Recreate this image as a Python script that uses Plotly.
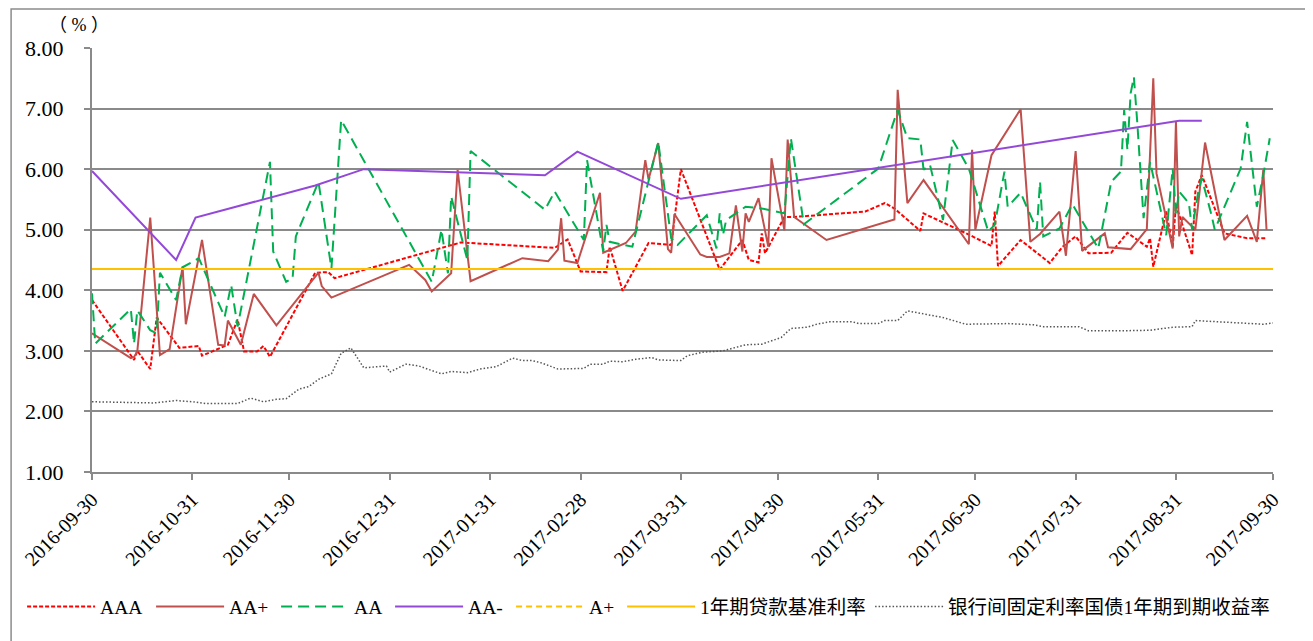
import plotly.graph_objects as go

# ---------------- data ----------------
aaa_dates = ["2016-09-30","2016-10-13","2016-10-14","2016-10-18","2016-10-20","2016-10-27","2016-11-02","2016-11-03",
             "2016-11-11","2016-11-14","2016-11-16","2016-11-20","2016-11-22","2016-11-24","2016-12-08","2016-12-12",
             "2016-12-14","2017-01-22","2017-02-20","2017-02-24","2017-02-28","2017-03-08","2017-03-09","2017-03-13",
             "2017-03-21","2017-03-28","2017-03-31","2017-04-12","2017-04-19","2017-04-21","2017-04-24","2017-04-25",
             "2017-04-26","2017-05-02","2017-05-05","2017-05-27","2017-06-02","2017-06-05","2017-06-13","2017-06-14",
             "2017-06-28","2017-07-05","2017-07-06","2017-07-07","2017-07-14","2017-07-23","2017-07-27","2017-07-31",
             "2017-08-04","2017-08-11","2017-08-16","2017-08-22","2017-08-23","2017-08-24","2017-08-28","2017-08-30",
             "2017-08-31","2017-09-05","2017-09-06","2017-09-08","2017-09-11","2017-09-15","2017-09-22","2017-09-28"]
aaa_vals = [3.84,2.85,3.00,2.70,3.55,3.05,3.08,2.92,
            3.10,3.52,2.99,2.99,3.08,2.90,4.29,4.30,
            4.20,4.79,4.70,4.84,4.31,4.30,4.72,3.99,
            4.78,4.75,6.00,4.34,4.83,4.50,4.46,4.94,
            4.61,5.21,5.21,5.30,5.44,5.35,4.98,5.27,
            4.92,4.73,5.30,4.40,4.83,4.45,4.72,4.89,
            4.61,4.62,4.95,4.72,4.86,4.39,5.30,4.72,
            5.41,4.58,5.63,5.90,5.49,4.94,4.86,4.86]

aap_dates = ["2016-09-30","2016-10-12","2016-10-13","2016-10-14","2016-10-18","2016-10-21","2016-10-24","2016-10-28",
             "2016-10-29","2016-11-03","2016-11-08","2016-11-10","2016-11-11","2016-11-15","2016-11-19","2016-11-26",
             "2016-12-09","2016-12-10","2016-12-13","2017-01-06","2017-01-11","2017-01-13","2017-01-19","2017-01-21",
             "2017-01-25","2017-02-10","2017-02-18","2017-02-21","2017-02-22","2017-02-23","2017-02-27","2017-03-06",
             "2017-03-07","2017-03-14","2017-03-17","2017-03-20","2017-03-21","2017-03-24","2017-03-27","2017-03-28",
             "2017-03-29","2017-04-06","2017-04-08","2017-04-12","2017-04-15","2017-04-17","2017-04-19","2017-04-20",
             "2017-04-21","2017-04-24","2017-04-27","2017-04-28","2017-05-02","2017-05-03","2017-05-05","2017-05-15",
             "2017-06-05","2017-06-06","2017-06-09","2017-06-14","2017-06-28","2017-06-29","2017-06-30","2017-07-05",
             "2017-07-14","2017-07-17","2017-07-20","2017-07-26","2017-07-28","2017-07-31","2017-08-02","2017-08-09",
             "2017-08-10","2017-08-17","2017-08-22","2017-08-24","2017-08-25","2017-08-30","2017-08-31","2017-09-01",
             "2017-09-02","2017-09-06","2017-09-09","2017-09-15","2017-09-22","2017-09-25","2017-09-27","2017-09-28"]
aap_vals = [3.29,2.88,2.90,2.99,5.20,2.93,3.03,4.39,
            3.44,4.83,3.10,3.09,3.50,3.10,3.94,3.42,
            4.29,4.07,3.88,4.42,4.17,3.98,4.28,5.99,
            4.15,4.53,4.48,4.67,5.19,4.49,4.45,5.61,
            4.62,4.78,4.97,6.15,5.83,6.43,4.68,4.62,
            5.26,4.59,4.55,4.55,4.61,5.40,4.64,5.27,
            5.13,5.52,4.72,6.18,4.99,6.49,5.21,4.83,
            5.17,7.31,5.44,5.82,4.76,6.32,5.00,6.23,
            6.99,4.80,4.93,5.30,4.57,6.30,4.65,4.94,
            4.71,4.68,5.01,7.50,5.93,4.69,6.78,4.89,
            5.21,5.00,6.44,4.83,5.23,4.80,5.99,5.00]

aa_dates = ["2016-09-30","2016-10-01","2016-10-12","2016-10-13","2016-10-14","2016-10-18","2016-10-20","2016-10-21",
            "2016-10-26","2016-10-28","2016-11-02","2016-11-10","2016-11-12","2016-11-14","2016-11-24","2016-11-25",
            "2016-11-29","2016-12-01","2016-12-02","2016-12-09","2016-12-13","2016-12-16","2017-01-13","2017-01-16",
            "2017-01-18","2017-01-19","2017-01-24","2017-01-25","2017-02-17","2017-02-20","2017-03-01","2017-03-02",
            "2017-03-07","2017-03-08","2017-03-09","2017-03-16","2017-03-24","2017-03-28","2017-03-30","2017-04-08",
            "2017-04-11","2017-04-12","2017-04-13","2017-04-14","2017-04-20","2017-04-25","2017-05-02","2017-05-04",
            "2017-05-08","2017-05-31","2017-06-06","2017-06-09","2017-06-13","2017-06-14","2017-06-16","2017-06-20",
            "2017-06-23","2017-06-28","2017-07-04","2017-07-06","2017-07-09","2017-07-10","2017-07-14","2017-07-19",
            "2017-07-20","2017-07-21","2017-07-26","2017-07-30","2017-08-07","2017-08-11","2017-08-14","2017-08-15",
            "2017-08-16","2017-08-17","2017-08-18","2017-08-19","2017-08-21","2017-08-23","2017-08-28","2017-08-30",
            "2017-08-31","2017-09-01","2017-09-04","2017-09-05","2017-09-07","2017-09-08","2017-09-11","2017-09-12",
            "2017-09-20","2017-09-22","2017-09-25","2017-09-27","2017-09-29"]
aa_vals = [3.95,3.12,3.69,3.12,3.67,3.34,3.29,4.29,
           3.84,4.38,4.53,3.56,4.09,3.40,6.12,4.64,
           4.14,4.20,4.89,5.79,4.36,6.81,4.14,5.00,
           4.28,5.55,4.50,6.30,5.33,5.63,4.83,6.15,
           4.64,5.08,4.80,4.72,6.45,4.86,4.75,5.24,
           4.69,5.27,4.91,5.16,5.38,5.35,5.27,6.51,
           5.09,6.01,6.98,6.51,6.49,5.99,6.07,5.16,
           6.48,6.01,4.97,5.08,5.96,5.38,5.61,5.00,
           5.79,4.89,5.02,5.42,4.69,5.79,5.96,6.98,
           6.32,7.25,7.52,6.81,5.19,6.12,4.91,6.01,
           5.27,5.63,5.44,5.00,5.66,5.85,5.24,5.00,
           6.01,6.78,5.38,5.90,6.51]

aam_dates = ["2016-09-30","2016-10-26","2016-11-01","2016-12-08","2016-12-23","2017-02-17","2017-02-27",
             "2017-03-31","2017-09-01","2017-09-08"]
aam_vals = [5.97,4.50,5.20,5.73,6.00,5.90,6.29,5.51,6.80,6.80]

ap_dates = [None]
ap_vals = [None]

base_dates = ["2016-09-30","2017-09-30"]
base_vals = [4.35,4.35]

gov_dates = ["2016-09-30","2016-10-19","2016-10-26","2016-10-31","2016-11-04","2016-11-14","2016-11-18","2016-11-22",
             "2016-11-26","2016-11-29","2016-12-03","2016-12-06","2016-12-09","2016-12-13","2016-12-16","2016-12-19",
             "2016-12-23","2016-12-30","2016-12-31","2017-01-05","2017-01-09","2017-01-14","2017-01-16","2017-01-19",
             "2017-01-24","2017-01-28","2017-02-02","2017-02-07","2017-02-10","2017-02-13","2017-02-16","2017-02-21",
             "2017-03-01","2017-03-03","2017-03-07","2017-03-09","2017-03-13","2017-03-17","2017-03-22","2017-03-24",
             "2017-03-31","2017-04-02","2017-04-07","2017-04-13","2017-04-17","2017-04-20","2017-04-25","2017-05-01",
             "2017-05-04","2017-05-09","2017-05-12","2017-05-16","2017-05-23","2017-05-25","2017-05-31","2017-06-02",
             "2017-06-06","2017-06-09","2017-06-15","2017-06-20","2017-06-27","2017-07-03","2017-07-10","2017-07-18",
             "2017-07-21","2017-08-01","2017-08-04","2017-08-13","2017-08-23","2017-08-30","2017-09-05","2017-09-06",
             "2017-09-13","2017-09-26","2017-09-27","2017-09-30"]
gov_vals = [2.16,2.14,2.18,2.16,2.13,2.13,2.22,2.16,
            2.20,2.21,2.37,2.41,2.53,2.62,2.96,3.05,
            2.72,2.75,2.65,2.78,2.75,2.66,2.62,2.66,
            2.64,2.70,2.74,2.88,2.84,2.84,2.80,2.70,
            2.71,2.78,2.78,2.83,2.82,2.86,2.89,2.85,
            2.84,2.92,2.98,3.00,3.06,3.10,3.11,3.22,
            3.37,3.39,3.44,3.48,3.48,3.45,3.45,3.50,
            3.50,3.66,3.60,3.55,3.44,3.45,3.45,3.43,
            3.40,3.40,3.33,3.33,3.34,3.39,3.40,3.50,
            3.48,3.45,3.44,3.46]

tick_vals = ["2016-09-30","2016-10-31","2016-11-30","2016-12-31","2017-01-31","2017-02-28","2017-03-31",
             "2017-04-30","2017-05-31","2017-06-30","2017-07-31","2017-08-31","2017-09-30"]
tick_text = tick_vals
y_ticks = [1, 2, 3, 4, 5, 6, 7, 8]

# ---------------- figure ----------------
FONT = "Liberation Serif, Times New Roman, Noto Sans CJK SC, serif"
GRID = "#8a8a8a"

fig = go.Figure()
fig.add_trace(go.Scatter(x=aaa_dates, y=aaa_vals, name="AAA", mode="lines", legendwidth=46,
                         line=dict(color="#FF0000", width=2, dash="4px,2px")))
fig.add_trace(go.Scatter(x=aap_dates, y=aap_vals, name="AA+", mode="lines", legendwidth=42,
                         line=dict(color="#C0504D", width=2)))
fig.add_trace(go.Scatter(x=aa_dates, y=aa_vals, name="AA", mode="lines", legendwidth=31,
                         line=dict(color="#00B050", width=2, dash="11px,6px")))
fig.add_trace(go.Scatter(x=aam_dates, y=aam_vals, name="AA-", mode="lines", legendwidth=38,
                         line=dict(color="#9448D8", width=2)))
fig.add_trace(go.Scatter(x=ap_dates, y=ap_vals, name="A+", mode="lines", legendwidth=28,
                         line=dict(color="#FFC000", width=2, dash="6px,4px")))
fig.add_trace(go.Scatter(x=base_dates, y=base_vals, name="1年期贷款基准利率", mode="lines", legendwidth=165,
                         line=dict(color="#FFC000", width=2)))
fig.add_trace(go.Scatter(x=gov_dates, y=gov_vals, name="银行间固定利率国债1年期到期收益率", mode="lines",
                         legendwidth=320,
                         line=dict(color="#555555", width=1.5, dash="1.5px,2px")))

fig.update_layout(
    width=1313, height=641,
    margin=dict(l=82, r=48, t=40, b=177),
    paper_bgcolor="white", plot_bgcolor="white",
    font=dict(family=FONT, size=16, color="black"),
    showlegend=True,
    legend=dict(orientation="h", x=-0.0592, xanchor="left", y=-0.318, yanchor="middle",
                font=dict(family=FONT, size=19.5, color="black"), itemwidth=68,
                bgcolor="rgba(0,0,0,0)", traceorder="normal"),
    xaxis=dict(type="date", range=["2016-09-30", "2017-09-30"], tickvals=tick_vals, ticktext=tick_text,
               tickangle=-45, showgrid=False, showline=True, linecolor=GRID, linewidth=2,
               ticks="outside", ticklen=6, tickcolor=GRID, tickwidth=1.5,
               tickfont=dict(family=FONT, size=20, color="black"), zeroline=False),
    yaxis=dict(range=[1, 8], tickvals=y_ticks, tickformat=".2f", showgrid=True, gridcolor=GRID, gridwidth=1.5,
               showline=True, linecolor=GRID, linewidth=2, ticks="outside", ticklen=6, tickcolor=GRID,
               tickwidth=1.5, ticklabelstandoff=16,
               tickfont=dict(family=FONT, size=22, color="black"), zeroline=False),
    shapes=[dict(type="rect", xref="paper", yref="paper", x0=-0.0685, x1=1.0296, y0=-0.45, y1=1.092,
                 line=dict(color="#8c8c8c", width=1.5), fillcolor="rgba(0,0,0,0)", layer="below")],
    annotations=[dict(text="（ % ）", xref="paper", yref="paper", x=-0.011, y=1.026, xanchor="center",
                      yanchor="bottom", showarrow=False,
                      font=dict(family=FONT, size=18, color="black"))],
)

fig.write_html("out.html")
